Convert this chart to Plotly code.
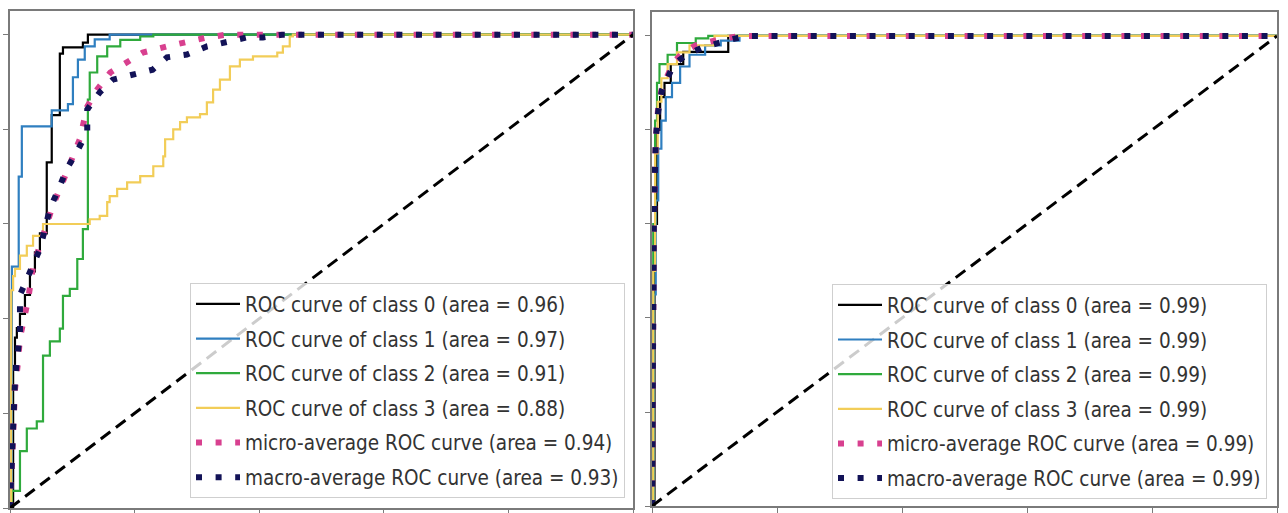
import plotly.graph_objects as go

# ---------------- data ----------------
L_c0_fpr = [0, 0.005, 0.008, 0.011, 0.016, 0.024, 0.032, 0.04, 0.048, 0.059, 0.067, 0.08, 0.085, 0.117, 0.125, 1.0]
L_c0_tpr = [0, 0.30, 0.36, 0.38, 0.41, 0.45, 0.50, 0.54, 0.58, 0.73, 0.83, 0.96, 0.973, 0.983, 1.0, 1.0]

L_c1_fpr = [0, 0.003, 0.014, 0.019, 0.067, 0.093, 0.101, 0.109, 0.12, 0.136, 0.16, 1.0]
L_c1_tpr = [0, 0.51, 0.70, 0.806, 0.84, 0.853, 0.91, 0.947, 0.975, 0.99, 1.0, 1.0]

L_c2_fpr = [0, 0.003, 0.016, 0.027, 0.043, 0.053, 0.064, 0.08, 0.085, 0.096, 0.108, 0.117, 0.125,
            0.128, 0.14, 0.156, 0.177, 0.209, 0.23, 1.0]
L_c2_tpr = [0, 0.036, 0.12, 0.168, 0.183, 0.322, 0.352, 0.379, 0.448, 0.463, 0.526, 0.589, 0.863,
            0.92, 0.954, 0.975, 0.989, 0.996, 1.0, 1.0]

L_c3_fpr = [0, 0.002, 0.005, 0.008, 0.016, 0.027, 0.037, 0.053, 0.128, 0.144, 0.156, 0.16, 0.172,
            0.188, 0.209, 0.23, 0.246, 0.249, 0.262, 0.273, 0.284, 0.305, 0.316, 0.326, 0.337,
            0.353, 0.369, 0.39, 0.429, 0.438, 0.449, 0.454, 1.0]
L_c3_tpr = [0, 0.46, 0.49, 0.505, 0.533, 0.554, 0.575, 0.60, 0.61, 0.617, 0.646, 0.659, 0.674,
            0.688, 0.701, 0.722, 0.743, 0.779, 0.80, 0.815, 0.825, 0.832, 0.857, 0.884, 0.905,
            0.933, 0.947, 0.954, 0.962, 0.975, 0.996, 1.0, 1.0]

L_micro_fpr = [0, 0.003, 0.005, 0.008, 0.013, 0.016, 0.021, 0.029, 0.037, 0.053, 0.069, 0.085, 0.10,
               0.112, 0.124, 0.14, 0.161, 0.188, 0.213, 0.252, 0.284, 0.316, 0.348, 1.0]
L_micro_tpr = [0, 0.10, 0.20, 0.25, 0.31, 0.36, 0.39, 0.44, 0.51, 0.58, 0.64, 0.69, 0.74,
               0.779, 0.848, 0.884, 0.92, 0.941, 0.962, 0.975, 0.985, 0.994, 1.0, 1.0]

L_macro_fpr = [0, 0.003, 0.005, 0.008, 0.011, 0.016, 0.016, 0.032, 0.048, 0.056, 0.064, 0.08, 0.091,
               0.107, 0.124, 0.124, 0.144, 0.165, 0.197, 0.229, 0.252, 0.284, 0.316, 0.348, 0.38,
               0.406, 0.438, 1.0]
L_macro_tpr = [0, 0.10, 0.20, 0.27, 0.31, 0.37, 0.45, 0.50, 0.547, 0.589, 0.632, 0.68, 0.716,
               0.752, 0.794, 0.842, 0.878, 0.905, 0.916, 0.926, 0.952, 0.958, 0.975, 0.985, 0.994,
               0.994, 1.0, 1.0]

R_c0_fpr = [0, 0.004, 0.008, 0.013, 0.02, 0.03, 0.05, 0.122, 1.0]
R_c0_tpr = [0, 0.60, 0.80, 0.87, 0.90, 0.94, 0.966, 1.0, 1.0]

R_c1_fpr = [0, 0.003, 0.006, 0.01, 0.015, 0.022, 0.032, 0.045, 0.06, 0.085, 0.11, 0.14, 1.0]
R_c1_tpr = [0, 0.45, 0.65, 0.76, 0.82, 0.87, 0.90, 0.935, 0.96, 0.98, 0.99, 1.0, 1.0]

R_c2_fpr = [0, 0.002, 0.005, 0.008, 0.012, 0.025, 0.04, 0.07, 0.09, 1.0]
R_c2_tpr = [0, 0.60, 0.82, 0.90, 0.94, 0.96, 0.985, 0.995, 1.0, 1.0]

R_c3_fpr = [0, 0.002, 0.005, 0.009, 0.015, 0.025, 0.04, 0.06, 0.10, 1.0]
R_c3_tpr = [0, 0.50, 0.75, 0.86, 0.91, 0.94, 0.965, 0.98, 1.0, 1.0]

R_micro_fpr = [0, 0.001, 0.003, 0.006, 0.01, 0.016, 0.025, 0.035, 0.05, 0.07, 0.10, 0.14, 1.0]
R_micro_tpr = [0, 0.30, 0.60, 0.78, 0.85, 0.89, 0.92, 0.945, 0.965, 0.98, 0.99, 1.0, 1.0]

R_macro_fpr = [0, 0.001, 0.003, 0.006, 0.01, 0.016, 0.025, 0.035, 0.055, 0.08, 0.12, 0.15, 1.0]
R_macro_tpr = [0, 0.30, 0.62, 0.78, 0.84, 0.885, 0.915, 0.94, 0.96, 0.975, 0.99, 1.0, 1.0]

diag_x = [0, 1]
diag_y = [0, 1]

L_labels = ["ROC curve of class 0 (area = 0.96)",
            "ROC curve of class 1 (area = 0.97)",
            "ROC curve of class 2 (area = 0.91)",
            "ROC curve of class 3 (area = 0.88)",
            "micro-average ROC curve (area = 0.94)",
            "macro-average ROC curve (area = 0.93)"]
R_labels = ["ROC curve of class 0 (area = 0.99)",
            "ROC curve of class 1 (area = 0.99)",
            "ROC curve of class 2 (area = 0.99)",
            "ROC curve of class 3 (area = 0.99)",
            "micro-average ROC curve (area = 0.99)",
            "macro-average ROC curve (area = 0.99)"]

tick_vals = [0, 0.2, 0.4, 0.6, 0.8, 1.0]

# ---------------- styles ----------------
class_colors = ["#000000", "#2f7fc0", "#2faa3c", "#f2cd58"]
micro_color = "#d8408f"
macro_color = "#121257"
FONT = "DejaVu Sans Condensed, DejaVu Sans, sans-serif"

fig = go.Figure()


def add_panel(fig, curves, labels, xa, ya, legend_name):
    for i, (fx, ty) in enumerate(curves):
        if i < 4:
            line = dict(color=class_colors[i], width=2.2, shape="hv")
        elif i == 4:
            line = dict(color=micro_color, width=6, dash="6px,13.6px")
        else:
            line = dict(color=macro_color, width=6, dash="6px,13.6px")
        fig.add_trace(go.Scatter(x=fx, y=ty, mode="lines", line=line, name=labels[i],
                                 xaxis=xa, yaxis=ya, legend=legend_name,
                                 legendgroup=f"{legend_name}_{i}", hoverinfo="skip"))
    fig.add_trace(go.Scatter(x=diag_x, y=diag_y, mode="lines",
                             line=dict(color="#000000", width=3, dash="12px,7px"),
                             xaxis=xa, yaxis=ya, showlegend=False, hoverinfo="skip"))


add_panel(fig,
          [(L_c0_fpr, L_c0_tpr), (L_c1_fpr, L_c1_tpr), (L_c2_fpr, L_c2_tpr),
           (L_c3_fpr, L_c3_tpr), (L_micro_fpr, L_micro_tpr), (L_macro_fpr, L_macro_tpr)],
          L_labels, "x", "y", "legend")
add_panel(fig,
          [(R_c0_fpr, R_c0_tpr), (R_c1_fpr, R_c1_tpr), (R_c2_fpr, R_c2_tpr),
           (R_c3_fpr, R_c3_tpr), (R_micro_fpr, R_micro_tpr), (R_macro_fpr, R_macro_tpr)],
          R_labels, "x2", "y2", "legend2")

W, H = 1288, 513
axis_common = dict(showgrid=False, zeroline=False, showline=True, mirror=True,
                   linecolor="#7a7a7a", linewidth=1.5, ticks="outside", ticklen=5,
                   tickcolor="#7a7a7a", tickwidth=1, showticklabels=False,
                   tickvals=tick_vals)

legend_common = dict(bgcolor="rgba(255,255,255,0.8)", bordercolor="#cfcfcf", borderwidth=1,
                     font=dict(family=FONT, size=20.5, color="#333333"),
                     traceorder="grouped", tracegroupgap=5, itemwidth=44,
                     xanchor="right", yanchor="bottom")

fig.update_layout(
    width=W, height=H,
    margin=dict(l=0, r=0, t=0, b=0),
    paper_bgcolor="white", plot_bgcolor="white",
    showlegend=True,
    xaxis=dict(domain=[10 / W, 633 / W], range=[0, 1], anchor="y", **axis_common),
    yaxis=dict(domain=[3 / H, 502 / H], range=[0, 1.05], anchor="x", **axis_common),
    xaxis2=dict(domain=[652 / W, 1277 / W], range=[0, 1], anchor="y2", **axis_common),
    yaxis2=dict(domain=[5 / H, 500.5 / H], range=[0, 1.05], anchor="x2", **axis_common),
    legend=dict(x=625 / W, y=13 / H, **legend_common),
    legend2=dict(x=1267 / W, y=12 / H, **legend_common),
)

fig.write_html("out.html",
               config={"displayModeBar": False},
               post_script="document.body.style.margin='0px';document.body.style.overflow='hidden';")
